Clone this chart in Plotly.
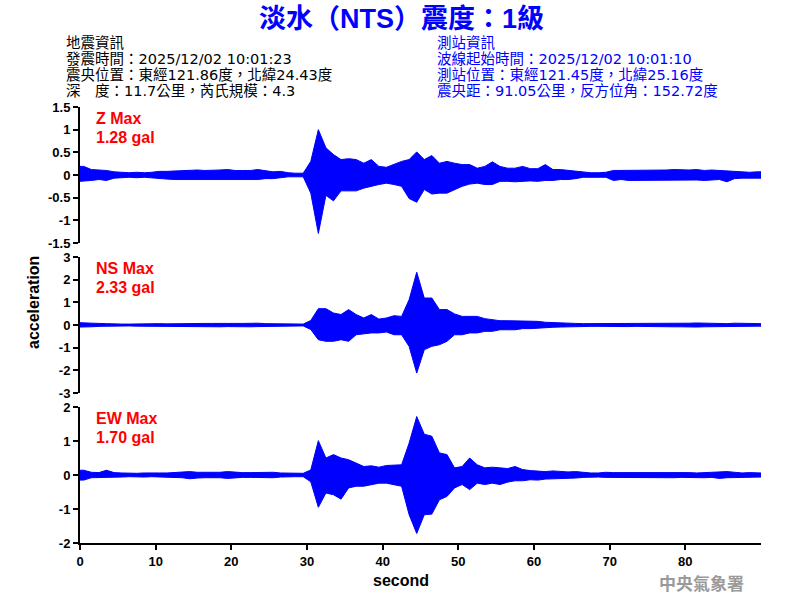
import plotly.graph_objects as go

# ---- data (per-second upper / lower envelope, gal) ----
seconds = list(range(90))

z_hi = [0.19,0.12,0.11,0.10,0.07,0.06,0.05,0.06,0.05,0.06,
        0.08,0.08,0.09,0.10,0.10,0.11,0.10,0.10,0.11,0.12,
        0.10,0.10,0.10,0.12,0.09,0.07,0.08,0.05,0.04,0.04,
        0.30,1.00,0.60,0.45,0.34,0.36,0.34,0.26,0.34,0.19,
        0.17,0.23,0.30,0.34,0.51,0.34,0.43,0.26,0.30,0.26,
        0.23,0.23,0.15,0.19,0.29,0.19,0.15,0.15,0.19,0.14,
        0.14,0.23,0.12,0.12,0.10,0.09,0.06,0.05,0.05,0.06,
        0.10,0.10,0.11,0.10,0.10,0.11,0.10,0.11,0.12,0.11,
        0.11,0.12,0.10,0.11,0.10,0.10,0.08,0.07,0.06,0.07]
z_lo = [-0.14,-0.12,-0.10,-0.12,-0.07,-0.06,-0.05,-0.06,-0.05,-0.07,
        -0.08,-0.09,-0.10,-0.10,-0.11,-0.10,-0.10,-0.11,-0.10,-0.10,
        -0.11,-0.10,-0.10,-0.10,-0.08,-0.08,-0.06,-0.04,-0.04,-0.04,
        -0.40,-1.29,-0.45,-0.57,-0.35,-0.35,-0.35,-0.29,-0.25,-0.21,
        -0.18,-0.21,-0.25,-0.52,-0.60,-0.32,-0.42,-0.40,-0.40,-0.32,
        -0.25,-0.20,-0.18,-0.21,-0.21,-0.14,-0.14,-0.15,-0.14,-0.13,
        -0.14,-0.12,-0.12,-0.10,-0.10,-0.08,-0.05,-0.05,-0.05,-0.05,
        -0.12,-0.10,-0.12,-0.11,-0.12,-0.11,-0.12,-0.12,-0.11,-0.12,
        -0.11,-0.11,-0.12,-0.11,-0.10,-0.15,-0.08,-0.07,-0.06,-0.07]

ns_hi = [0.10,0.08,0.07,0.06,0.04,0.04,0.04,0.05,0.06,0.05,
         0.06,0.05,0.06,0.07,0.07,0.08,0.07,0.07,0.08,0.08,
         0.07,0.07,0.08,0.08,0.06,0.05,0.06,0.04,0.04,0.04,
         0.20,0.72,0.72,0.53,0.46,0.68,0.46,0.31,0.46,0.26,
         0.31,0.41,0.38,1.12,2.33,1.19,1.19,0.68,0.68,0.49,
         0.38,0.38,0.38,0.28,0.24,0.19,0.19,0.19,0.16,0.19,
         0.16,0.12,0.10,0.09,0.08,0.07,0.06,0.06,0.07,0.06,
         0.05,0.06,0.06,0.07,0.07,0.08,0.07,0.07,0.08,0.08,
         0.08,0.09,0.08,0.07,0.06,0.06,0.08,0.07,0.05,0.06]
ns_lo = [-0.09,-0.08,-0.06,-0.05,-0.04,-0.04,-0.04,-0.05,-0.07,-0.06,
         -0.06,-0.06,-0.07,-0.07,-0.08,-0.07,-0.07,-0.08,-0.08,-0.07,
         -0.07,-0.07,-0.08,-0.07,-0.06,-0.05,-0.05,-0.04,-0.04,-0.04,
         -0.20,-0.65,-0.72,-0.72,-0.65,-0.72,-0.43,-0.40,-0.35,-0.35,
         -0.31,-0.43,-0.43,-0.95,-2.12,-1.09,-0.94,-0.87,-0.72,-0.43,
         -0.43,-0.35,-0.35,-0.28,-0.28,-0.21,-0.21,-0.21,-0.16,-0.16,
         -0.16,-0.12,-0.10,-0.09,-0.08,-0.07,-0.06,-0.06,-0.06,-0.05,
         -0.05,-0.06,-0.07,-0.06,-0.07,-0.08,-0.07,-0.07,-0.08,-0.08,
         -0.07,-0.09,-0.08,-0.07,-0.07,-0.06,-0.07,-0.07,-0.06,-0.05]

ew_hi = [0.14,0.08,0.07,0.14,0.07,0.06,0.05,0.05,0.06,0.05,
         0.06,0.06,0.07,0.08,0.10,0.08,0.08,0.07,0.08,0.10,
         0.08,0.07,0.07,0.08,0.07,0.08,0.06,0.05,0.05,0.05,
         0.15,1.01,0.50,0.60,0.50,0.45,0.35,0.25,0.27,0.23,
         0.28,0.28,0.30,0.94,1.72,1.20,1.14,0.65,0.60,0.21,
         0.25,0.50,0.30,0.21,0.23,0.21,0.19,0.25,0.16,0.13,
         0.12,0.10,0.12,0.10,0.09,0.10,0.07,0.06,0.06,0.08,
         0.07,0.07,0.07,0.07,0.08,0.08,0.09,0.08,0.08,0.09,
         0.07,0.06,0.07,0.07,0.08,0.10,0.08,0.06,0.07,0.06]
ew_lo = [-0.15,-0.08,-0.07,-0.08,-0.07,-0.06,-0.05,-0.05,-0.06,-0.05,
         -0.06,-0.07,-0.07,-0.08,-0.11,-0.09,-0.08,-0.07,-0.08,-0.10,
         -0.08,-0.07,-0.07,-0.08,-0.07,-0.08,-0.06,-0.05,-0.05,-0.05,
         -0.20,-0.95,-0.53,-0.58,-0.71,-0.38,-0.33,-0.33,-0.28,-0.24,
         -0.24,-0.28,-0.33,-1.17,-1.72,-1.17,-1.15,-0.73,-0.63,-0.38,
         -0.28,-0.43,-0.24,-0.28,-0.24,-0.28,-0.21,-0.17,-0.17,-0.14,
         -0.15,-0.12,-0.10,-0.10,-0.10,-0.09,-0.07,-0.06,-0.06,-0.07,
         -0.07,-0.07,-0.07,-0.08,-0.08,-0.09,-0.08,-0.08,-0.08,-0.07,
         -0.07,-0.07,-0.08,-0.07,-0.10,-0.08,-0.07,-0.07,-0.06,-0.06]

channels = ["Z", "NS", "EW"]
max_labels = ["1.28 gal", "2.33 gal", "1.70 gal"]
z_ticks = [-1.5, -1, -0.5, 0, 0.5, 1, 1.5]
ns_ticks = [-3, -2, -1, 0, 1, 2, 3]
ew_ticks = [-2, -1, 0, 1, 2]
x_ticks = [0, 10, 20, 30, 40, 50, 60, 70, 80]

title_text = "淡水（NTS）震度：1級"
quake_info = ["地震資訊", "發震時間：2025/12/02 10:01:23",
              "震央位置：東經121.86度，北緯24.43度", "深　度：11.7公里，芮氏規模：4.3"]
station_info = ["測站資訊", "波線起始時間：2025/12/02 10:01:10",
                "測站位置：東經121.45度，北緯25.16度", "震央距：91.05公里，反方位角：152.72度"]

# ---- figure ----
FONT = "Liberation Sans, Arial, Noto Sans CJK TC, sans-serif"
INFO_FONT = "DejaVu Sans, Noto Sans CJK TC, sans-serif"
BLUE = "#0000FF"
X_END = 90

def envelope(hi, lo):
    xs = [0] + [t + 0.5 for t in seconds] + [X_END]
    up = [hi[0]] + list(hi) + [hi[-1]]
    dn = [lo[0]] + list(lo) + [lo[-1]]
    return xs + xs[::-1], up + dn[::-1]

fig = go.Figure()
data = [(z_hi, z_lo), (ns_hi, ns_lo), (ew_hi, ew_lo)]
for i, (hi, lo) in enumerate(data):
    xs, ys = envelope(hi, lo)
    fig.add_trace(go.Scatter(x=xs, y=ys, mode="lines", fill="toself",
                             fillcolor=BLUE, line=dict(color=BLUE, width=1),
                             xaxis="x" if i == 0 else f"x{i+1}",
                             yaxis="y" if i == 0 else f"y{i+1}",
                             showlegend=False, hoverinfo="skip"))

H = 436.0
W = 681.0
domains = [[300 / H, 1.0], [150 / H, 286 / H], [0.0, 136 / H]]
ranges = [[-1.5, 1.5], [-3, 3], [-2, 2]]
ticks = [z_ticks, ns_ticks, ew_ticks]

layout = dict(
    width=800, height=600,
    margin=dict(l=80, r=39, t=107, b=57),
    paper_bgcolor="white", plot_bgcolor="white",
    font=dict(family=FONT, color="black"),
)
for i in range(3):
    xk = "xaxis" if i == 0 else f"xaxis{i+1}"
    yk = "yaxis" if i == 0 else f"yaxis{i+1}"
    last = (i == 2)
    layout[xk] = dict(domain=[0, 1], range=[0, X_END], anchor="y" if i == 0 else f"y{i+1}",
                      showgrid=False, zeroline=False,
                      showline=last, linecolor="black", linewidth=2,
                      ticks="outside" if last else "", ticklen=5, tickwidth=2, tickcolor="black",
                      tickvals=x_ticks if last else [], showticklabels=last,
                      tickfont=dict(family=FONT, size=13, color="black", weight="bold"))
    layout[yk] = dict(domain=domains[i], range=ranges[i], anchor="x" if i == 0 else f"x{i+1}",
                      showgrid=False, zeroline=False,
                      showline=True, linecolor="black", linewidth=2,
                      ticks="outside", ticklen=5, tickwidth=2, tickcolor="black",
                      tickvals=ticks[i], ticktext=["%g" % v for v in ticks[i]],
                      tickfont=dict(family=FONT, size=13, color="black", weight="bold"))

ann = []
def px2x(px):
    return (px - 80) / W
def py2y(py):
    return (543.0 - py) / H

ann.append(dict(text=title_text, x=px2x(401.5), y=py2y(19), xref="paper", yref="paper",
                showarrow=False, xanchor="center", yanchor="middle",
                font=dict(family=FONT, size=27, color=BLUE, weight="bold")))
rows_y = [43.5, 59.3, 75.1, 91]
for k, line in enumerate(quake_info):
    ann.append(dict(text=line, x=px2x(64), y=py2y(rows_y[k]), xref="paper", yref="paper",
                    showarrow=False, xanchor="left", yanchor="middle",
                    font=dict(family=INFO_FONT, size=14.5, color="black")))
for k, line in enumerate(station_info):
    ann.append(dict(text=line, x=px2x(435), y=py2y(rows_y[k]), xref="paper", yref="paper",
                    showarrow=False, xanchor="left", yanchor="middle",
                    font=dict(family=INFO_FONT, size=14.5, color=BLUE)))

panel_tops = [107.0, 257.0, 407.0]
for i in range(3):
    ann.append(dict(text=f"{channels[i]} Max", x=px2x(94), y=py2y(panel_tops[i] + 11),
                    xref="paper", yref="paper", showarrow=False, xanchor="left", yanchor="middle",
                    font=dict(family=FONT, size=16, color="#FF0000", weight="bold")))
    ann.append(dict(text=max_labels[i], x=px2x(94), y=py2y(panel_tops[i] + 30),
                    xref="paper", yref="paper", showarrow=False, xanchor="left", yanchor="middle",
                    font=dict(family=FONT, size=16, color="#FF0000", weight="bold")))

ann.append(dict(text="acceleration", x=px2x(33), y=py2y(303), xref="paper", yref="paper",
                showarrow=False, textangle=-90, xanchor="center", yanchor="middle",
                font=dict(family=FONT, size=16, color="black", weight="bold")))
ann.append(dict(text="second", x=px2x(401), y=py2y(580), xref="paper", yref="paper",
                showarrow=False, xanchor="center", yanchor="middle",
                font=dict(family=FONT, size=16, color="black", weight="bold")))
ann.append(dict(text="中央氣象署", x=px2x(701), y=py2y(582), xref="paper", yref="paper",
                showarrow=False, xanchor="center", yanchor="middle",
                font=dict(family="Noto Sans CJK TC, sans-serif", size=17, color="#9a9a9a", weight="bold")))
layout["annotations"] = ann

fig.update_layout(**layout)
fig.write_html("out.html", config={"displayModeBar": False},
               post_script="document.body.style.margin='0';document.body.style.overflow='hidden';")
